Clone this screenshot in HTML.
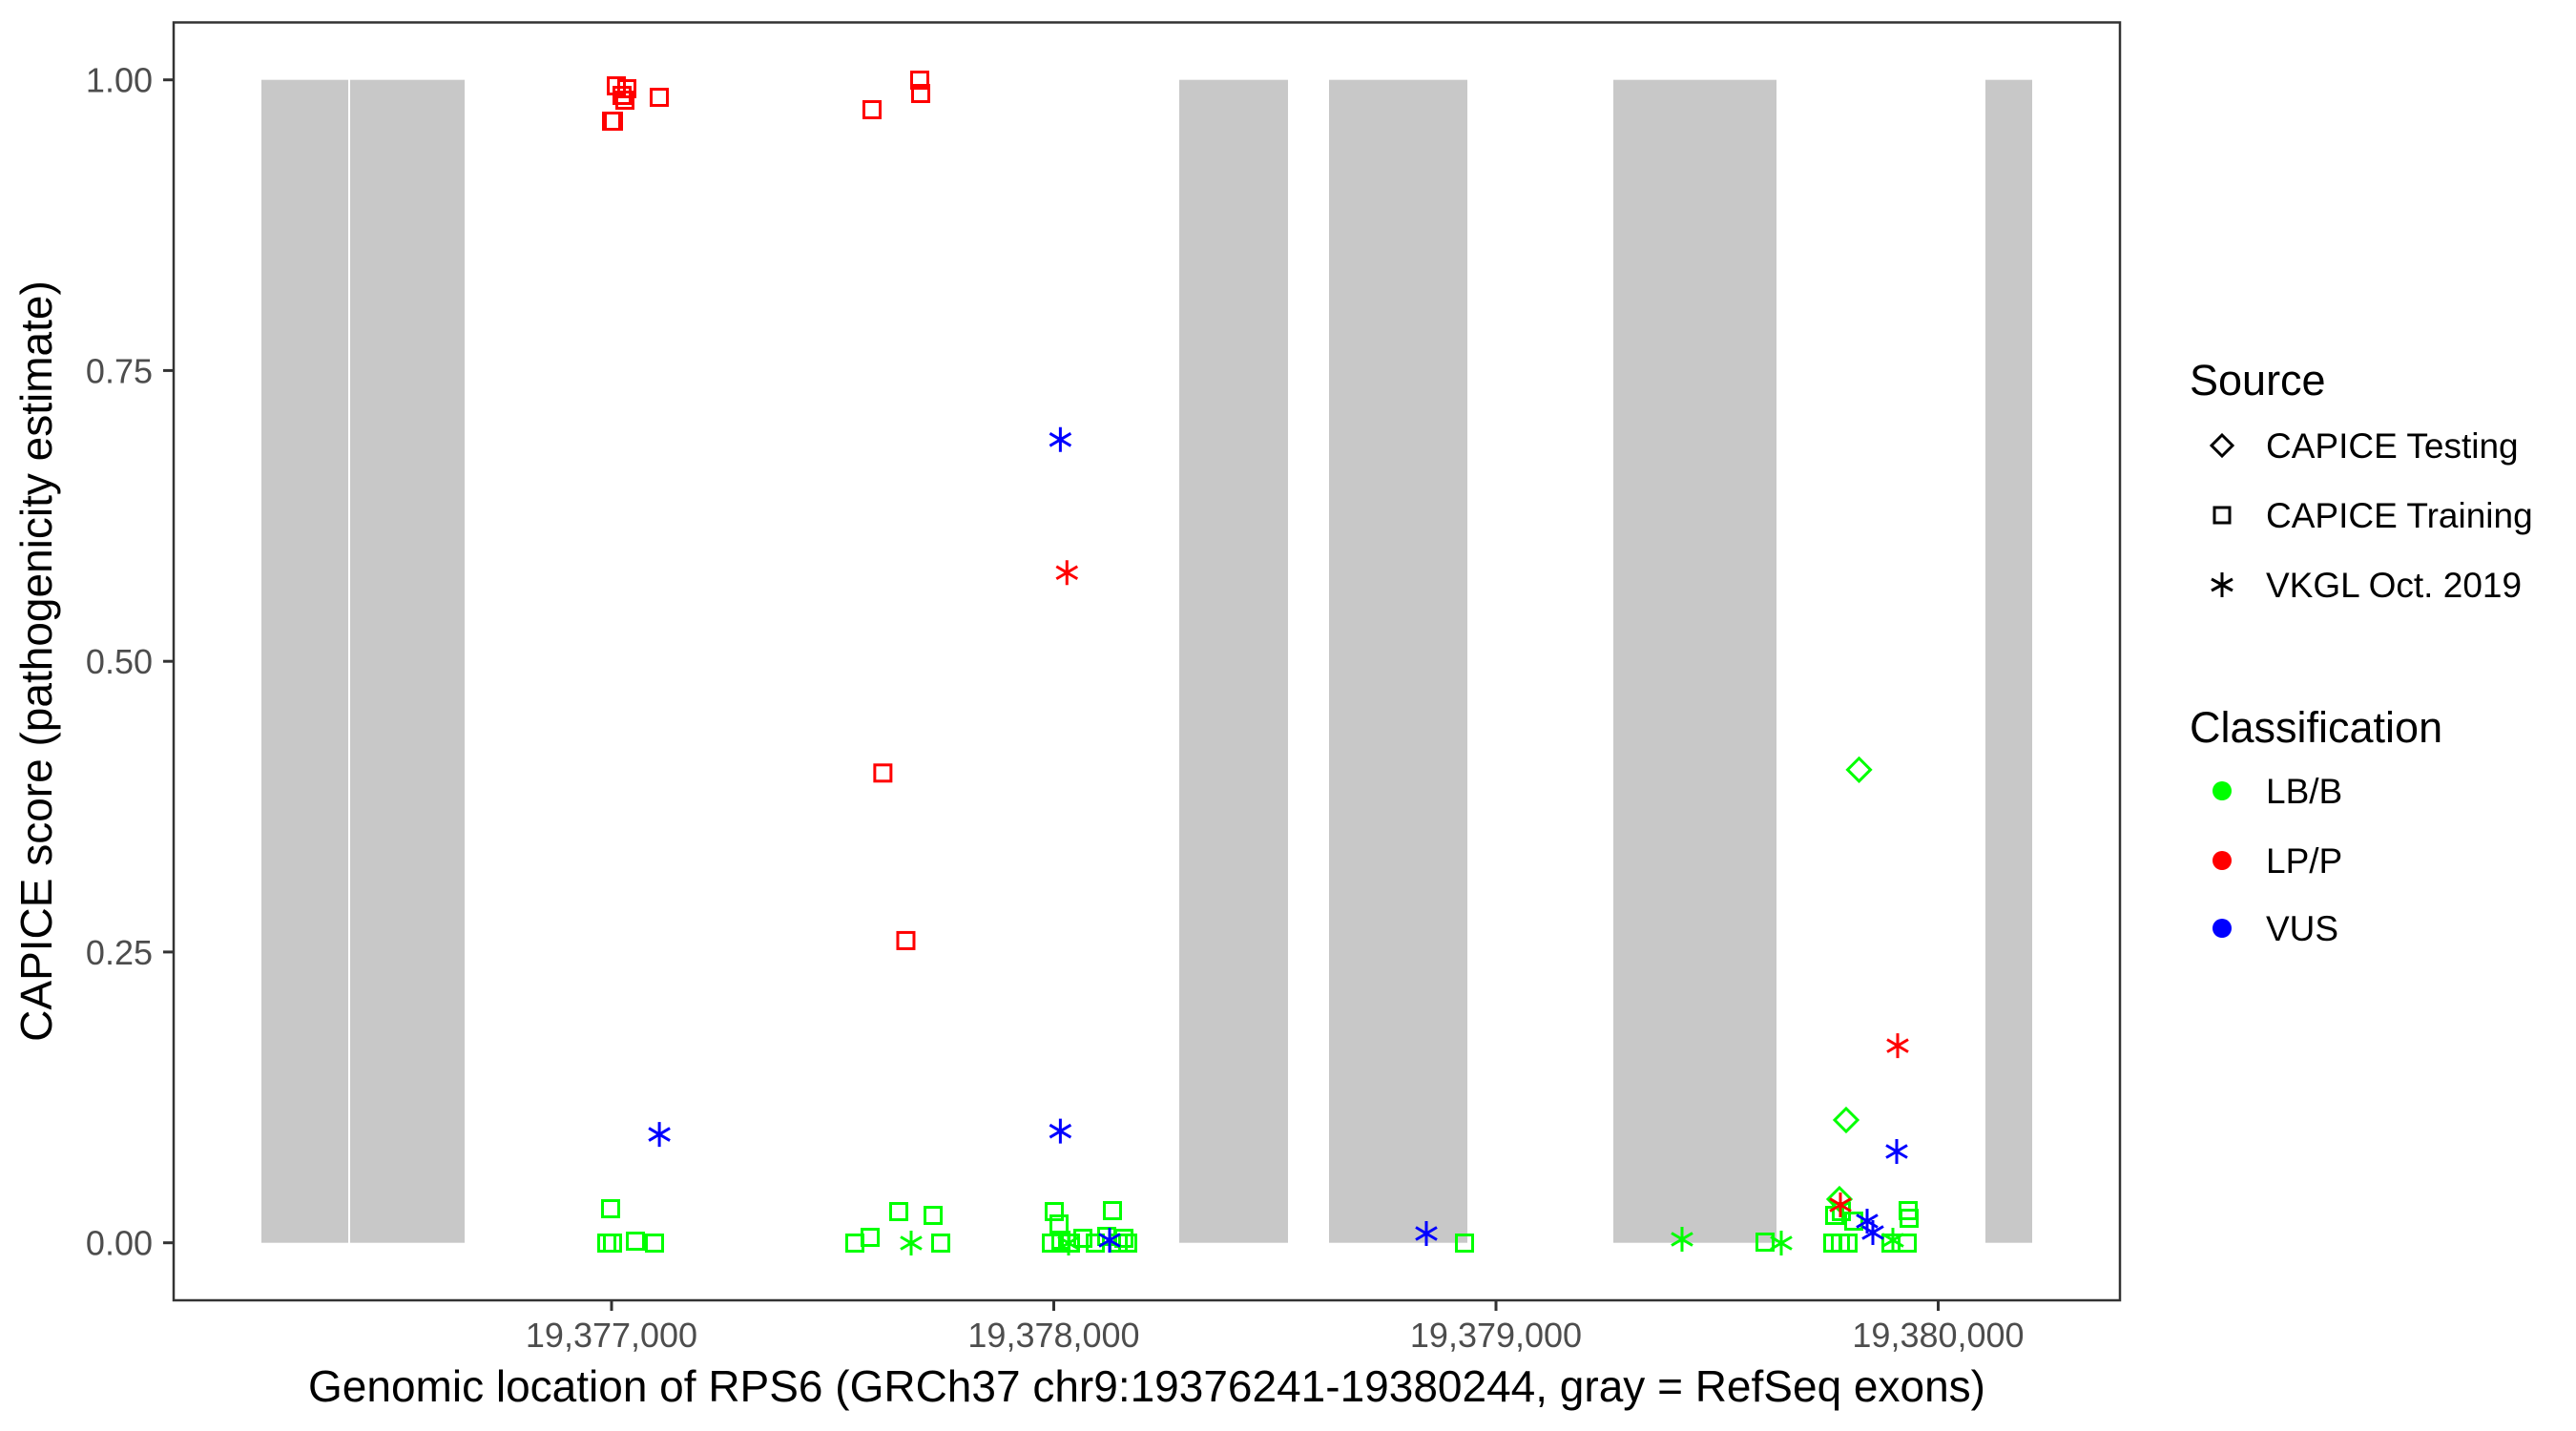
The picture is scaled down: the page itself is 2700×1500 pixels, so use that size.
<!DOCTYPE html>
<html><head><meta charset="utf-8"><style>
html,body{margin:0;padding:0;background:#fff;}
svg{display:block;font-family:"Liberation Sans",Arial,sans-serif;}
</style></head><body>
<svg id="s" width="2700" height="1500" viewBox="0 0 2700 1500" xmlns="http://www.w3.org/2000/svg">
<rect width="2700" height="1500" fill="#fff"/>
<g fill="#c8c8c8">
<rect x="274" y="83.7" width="91" height="1219"/>
<rect x="367" y="83.7" width="120" height="1219"/>
<rect x="1236" y="83.7" width="114" height="1219"/>
<rect x="1393" y="83.7" width="145" height="1219"/>
<rect x="1691" y="83.7" width="171" height="1219"/>
<rect x="2081" y="83.7" width="49" height="1219"/>
</g>
<g id="pts" fill="none" stroke-width="3"></g>
<rect x="182" y="23.5" width="2040" height="1339.5" fill="none" stroke="#333" stroke-width="2.5"/>
<g stroke="#333" stroke-width="3">
<line x1="171" x2="182" y1="83.7" y2="83.7"/>
<line x1="171" x2="182" y1="388.4" y2="388.4"/>
<line x1="171" x2="182" y1="693.2" y2="693.2"/>
<line x1="171" x2="182" y1="997.9" y2="997.9"/>
<line x1="171" x2="182" y1="1302.7" y2="1302.7"/>
<line x1="641" x2="641" y1="1363" y2="1374"/>
<line x1="1104.5" x2="1104.5" y1="1363" y2="1374"/>
<line x1="1568" x2="1568" y1="1363" y2="1374"/>
<line x1="2031.5" x2="2031.5" y1="1363" y2="1374"/>
</g>
<g fill="#4d4d4d" font-size="36" text-anchor="end">
<text x="160" y="96.7">1.00</text>
<text x="160" y="401.4">0.75</text>
<text x="160" y="706.2">0.50</text>
<text x="160" y="1010.9">0.25</text>
<text x="160" y="1315.7">0.00</text>
</g>
<g fill="#4d4d4d" font-size="36" text-anchor="middle">
<text x="641" y="1412">19,377,000</text>
<text x="1104.5" y="1412">19,378,000</text>
<text x="1568" y="1412">19,379,000</text>
<text x="2031.5" y="1412">19,380,000</text>
</g>
<text x="1202" y="1469" font-size="46" text-anchor="middle" fill="#000">Genomic location of RPS6 (GRCh37 chr9:19376241-19380244, gray = RefSeq exons)</text>
<text transform="translate(54,693) rotate(-90)" font-size="46" text-anchor="middle" fill="#000">CAPICE score (pathogenicity estimate)</text>
<g fill="#000">
<text x="2295" y="414" font-size="45">Source</text>
<text x="2375" y="480" font-size="37">CAPICE Testing</text>
<text x="2375" y="553" font-size="37">CAPICE Training</text>
<text x="2375" y="626" font-size="37">VKGL Oct. 2019</text>
<text x="2295" y="778" font-size="45">Classification</text>
<text x="2375" y="842" font-size="37">LB/B</text>
<text x="2375" y="915" font-size="37">LP/P</text>
<text x="2375" y="986" font-size="37">VUS</text>
</g>
<g stroke="#000" stroke-width="3" fill="none">
<path d="M2329 456 L2340 467 L2329 478 L2318 467 Z"/>
<rect x="2321" y="532" width="16" height="16"/>
<path d="M2329 600 V626 M2318 607 L2340 619 M2318 619 L2340 607"/>
</g>
<circle cx="2329" cy="829" r="10" fill="#00ff00"/>
<circle cx="2329" cy="902" r="10" fill="#ff0000"/>
<circle cx="2329" cy="973" r="10" fill="#0000ff"/>
</svg>
<script>
var g=document.getElementById('pts');var NS='http://www.w3.org/2000/svg';
function X(d){return 1104.5+(d-641)*1.7225;}function Y(d){return 83.7+(d-48)*1.7218;}
var C={g:'#00ff00',r:'#ff0000',b:'#0000ff'};
function sq(x,y,c){var e=document.createElementNS(NS,'rect');e.setAttribute('x',x-8.5);e.setAttribute('y',y-8.5);e.setAttribute('width',17);e.setAttribute('height',17);e.setAttribute('stroke',C[c]);g.appendChild(e);}
function st(x,y,c){var e=document.createElementNS(NS,'path');e.setAttribute('d','M'+x+' '+(y-13)+'V'+(y+13)+'M'+(x-11)+' '+(y-6.5)+'L'+(x+11)+' '+(y+6.5)+'M'+(x-11)+' '+(y+6.5)+'L'+(x+11)+' '+(y-6.5));e.setAttribute('stroke',C[c]);g.appendChild(e);}
function di(x,y,c){var e=document.createElementNS(NS,'path');e.setAttribute('d','M'+x+' '+(y-12)+'L'+(x+12)+' '+y+'L'+x+' '+(y+12)+'L'+(x-12)+' '+y+'Z');e.setAttribute('stroke',C[c]);g.appendChild(e);}
[[646,90],[657,93],[652,100],[655,105],[641,127],[643,127],[691,102],[914,115],[964,84],[965,98]].forEach(p=>sq(p[0],p[1],'r'));
sq(X(537),Y(470),'r');sq(X(551),Y(572),'r');
[[640,1267],[636,1303],[642,1303],[666,1301],[686,1303],[942,1270],[978,1274],[912,1297],[896,1303],[986,1303],
[1105,1270],[1110,1283],[1102,1303],[1112,1300],[1122,1303],[1135,1298],[1148,1303],[1160,1296],[1166,1269],[1178,1298],[1182,1303],[1172,1303],
[1535,1303],[1850,1302],[1921,1303],[1929,1303],[1937,1303],[1923,1274],[1930,1270],[1943,1280],[2000,1269],[2001,1277],[1982,1303],[1999,1303]].forEach(p=>sq(p[0],p[1],'g'));
[[955,1303],[1120,1303],[1763,1299],[1867,1303],[1984,1300]].forEach(p=>st(p[0],p[1],'g'));
di(1935,1174,'g');di(1928,1257,'g');di(X(1131),Y(468),'g');
st(X(649),Y(348),'r');st(1989,Y(636),'r');st(1929,1263,'r');
st(X(401),Y(690),'b');st(X(645),Y(267),'b');st(X(645),Y(688),'b');st(1163,1300,'b');st(1495,1293,'b');st(1988,1207,'b');st(1957,1280,'b');st(1963,1292,'b');
</script>
</body></html>
